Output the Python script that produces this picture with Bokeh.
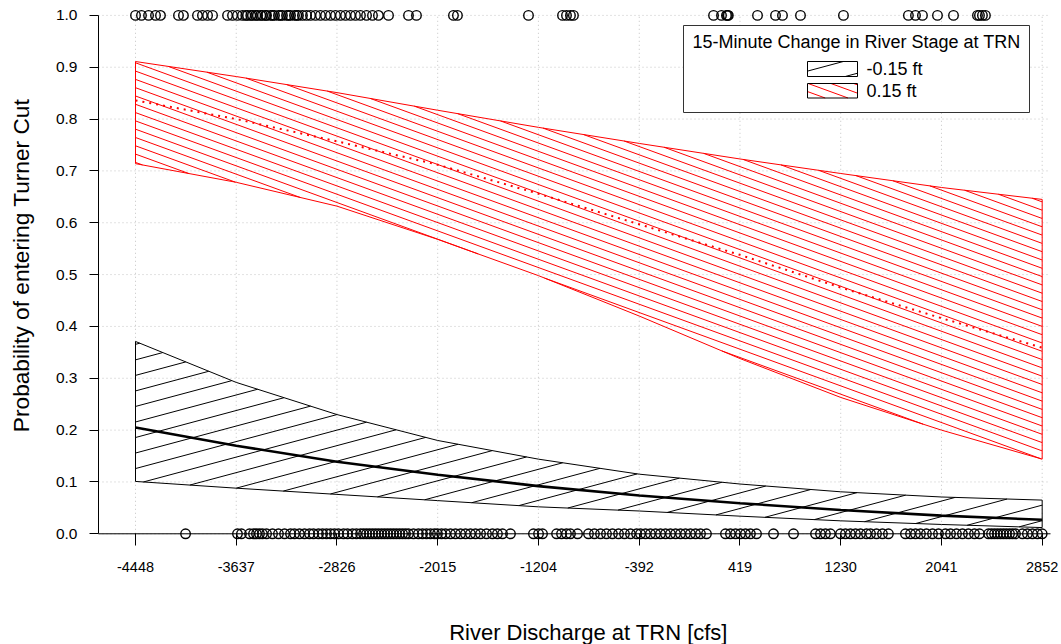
import numpy as np
from bokeh.plotting import figure
from bokeh.models import Range1d, FixedTicker, NumeralTickFormatter
from bokeh.core.properties import value
from bokeh.embed import file_html
from bokeh.resources import INLINE

FONT = "Liberation Sans"

# River discharge (cfs) at which the fitted probabilities are drawn
discharge = [-4448, -3637, -2826, -2015, -1204, -392, 419, 1230, 2041, 2852]

# 15-minute stage change of -0.15 ft: fit and confidence band
neg_fit = [0.205, 0.170, 0.139, 0.114, 0.092, 0.074, 0.059, 0.046, 0.035, 0.027]
neg_lower = [0.101, 0.088, 0.076, 0.064, 0.052, 0.044, 0.034, 0.025, 0.018, 0.012]
neg_upper = [0.371, 0.292, 0.230, 0.180, 0.144, 0.115, 0.096, 0.081, 0.071, 0.065]

# 15-minute stage change of +0.15 ft: fit and confidence band
pos_fit = [0.836, 0.800, 0.757, 0.712, 0.656, 0.597, 0.538, 0.475, 0.416, 0.359]
pos_lower = [0.714, 0.678, 0.632, 0.568, 0.498, 0.420, 0.338, 0.263, 0.200, 0.144]
pos_upper = [0.911, 0.882, 0.851, 0.817, 0.784, 0.753, 0.723, 0.695, 0.668, 0.645]

# observed fish: entered Turner Cut (1) or not (0), by discharge
entered_discharge = [
    -4448, -4400, -4343, -4287, -4247, -4102, -4062, -3949, -3909, -3868,
    -3828, -3707, -3667, -3627, -3587, -3560, -3546, -3520, -3506, -3480,
    -3466, -3440, -3426, -3400, -3393, -3361, -3345, -3329, -3297, -3280,
    -3265, -3232, -3215, -3200, -3168, -3150, -3136, -3104, -3071, -3039,
    -2999, -2959, -2918, -2878, -2838, -2798, -2757, -2717, -2677, -2637,
    -2588, -2540, -2492, -2411, -2250, -2186, -1888, -1856, -1284, -1010,
    -978, -946, -922, 206, 270, 310, 318, 325, 560, 705, 761, 906, 1252,
    1775, 1832, 1888, 2009, 2138, 2331, 2347, 2371, 2395,
]
passed_discharge = [
    -4045, -3627, -3595, -3530, -3498, -3474, -3450, -3426, -3393, -3345,
    -3297, -3248, -3200, -3168, -3128, -3087, -3047, -3015, -2975, -2942,
    -2910, -2878, -2846, -2814, -2773, -2741, -2701, -2669, -2636, -2612,
    -2588, -2564, -2540, -2516, -2492, -2467, -2443, -2419, -2395, -2371,
    -2347, -2322, -2298, -2274, -2250, -2210, -2170, -2137, -2105, -2073,
    -2041, -2017, -1984, -1952, -1912, -1872, -1831, -1791, -1751, -1711,
    -1670, -1622, -1574, -1534, -1493, -1429, -1244, -1203, -1171, -1058,
    -1018, -978, -946, -889, -801, -753, -704, -656, -608, -559, -511,
    -463, -414, -382, -342, -302, -261, -221, -181, -141, -100, -60, -20,
    20, 61, 101, 149, 302, 342, 383, 423, 463, 503, 552, 689, 850, 1027,
    1067, 1107, 1147, 1228, 1268, 1308, 1349, 1389, 1437, 1470, 1518, 1566,
    1614, 1751, 1792, 1832, 1872, 1920, 1969, 2017, 2073, 2114, 2162, 2210,
    2258, 2307, 2347, 2420, 2444, 2468, 2492, 2516, 2540, 2564, 2589, 2613,
    2637, 2693, 2733, 2774, 2814, 2852,
]

x_ticks = [-4448, -3637, -2826, -2015, -1204, -392, 419, 1230, 2041, 2852]
y_ticks = [0.0, 0.1, 0.2, 0.3, 0.4, 0.5, 0.6, 0.7, 0.8, 0.9, 1.0]

x_title = "River Discharge at TRN [cfs]"
y_title = "Probability of entering Turner Cut"
legend_title = "15-Minute Change in River Stage at TRN"
legend_labels = ["-0.15 ft", "0.15 ft"]

# ---- layout -------------------------------------------------------------
# The frame covers the whole canvas; axes sit at fixed data locations.
WIDTH, HEIGHT = 1061, 644
AXIS_PX, RIGHT_PX = 98, 1050      # y-axis line and right end of the plotting area
SX = 952 / 7665                   # pixels per cfs
SY = 532 / 1.0262                 # pixels per unit probability
X_AT_AXIS = -4746                 # discharge under the y-axis line
Y_AT_TOP = 1.0287                 # probability at the top canvas edge

X_START = X_AT_AXIS - AXIS_PX / SX
X_END = X_START + WIDTH / SX
Y_END = Y_AT_TOP
Y_START = Y_END - HEIGHT / SY


def px_to_x(px):
    return X_START + px / SX


def py_to_y(py):
    return Y_END - py / SY


def hatch_segments(xs, lo, hi, angle, gap):
    """Parallel shading lines (angle in degrees on screen, gap in px)
    clipped to the region between the lo and hi curves."""
    X = (np.asarray(xs, float) - X_START) * SX
    L = (np.asarray(lo, float) - Y_START) * SY
    U = (np.asarray(hi, float) - Y_START) * SY
    fine = np.linspace(X[0], X[-1], 8000)
    fl = np.interp(fine, X, L)
    fu = np.interp(fine, X, U)
    k = np.tan(np.radians(angle))
    step = gap / np.cos(np.radians(angle))
    cl = fl - k * fine
    cu = fu - k * fine
    cs = np.arange(np.ceil(cl.min() / step) * step, cu.max(), step)
    x0, y0, x1, y1 = [], [], [], []
    for c in cs:
        idx = np.flatnonzero((cl <= c) & (c <= cu))
        if idx.size < 2:
            continue
        br = np.flatnonzero(np.diff(idx) > 1)
        starts = np.r_[idx[0], idx[br + 1]]
        ends = np.r_[idx[br], idx[-1]]
        for s, e in zip(starts, ends):
            if e <= s:
                continue
            xa, xb = fine[s], fine[e]
            x0.append(X_START + xa / SX)
            y0.append(Y_START + (k * xa + c) / SY)
            x1.append(X_START + xb / SX)
            y1.append(Y_START + (k * xb + c) / SY)
    return x0, y0, x1, y1


p = figure(
    width=WIDTH, height=HEIGHT,
    x_range=Range1d(X_START, X_END), y_range=Range1d(Y_START, Y_END),
    output_backend="svg", toolbar_location=None,
    min_border_left=0, min_border_right=0, min_border_top=0, min_border_bottom=0,
)
p.outline_line_color = None
p.background_fill_color = "white"
p.border_fill_color = "white"

# ---- grid ---------------------------------------------------------------
GRID = "#c4c4c4"
p.xgrid.visible = False
p.ygrid.visible = False
p.segment(x0=x_ticks, y0=[0] * len(x_ticks), x1=x_ticks, y1=[1] * len(x_ticks),
          line_color=GRID, line_dash="1 3", line_width=1, level="underlay")
p.segment(x0=[X_AT_AXIS] * len(y_ticks), y0=y_ticks,
          x1=[px_to_x(RIGHT_PX)] * len(y_ticks), y1=y_ticks,
          line_color=GRID, line_dash="1 3", line_width=1, level="underlay")

# ---- axes ---------------------------------------------------------------
xa = p.xaxis[0]
xa.fixed_location = 0
xa.ticker = FixedTicker(ticks=x_ticks)
xa.formatter = NumeralTickFormatter(format="0")
xa.axis_line_color = None
xa.major_tick_in = 0
xa.major_tick_out = 12
xa.minor_tick_line_color = None
xa.major_label_standoff = 16
xa.major_label_text_font = FONT
xa.major_label_text_font_size = "14.5px"
xa.major_label_text_color = "black"

ya = p.yaxis[0]
ya.fixed_location = X_AT_AXIS
ya.ticker = FixedTicker(ticks=y_ticks)
ya.formatter = NumeralTickFormatter(format="0.0")
ya.bounds = (0, 1)
ya.axis_line_color = "black"
ya.major_tick_in = 0
ya.major_tick_out = 9
ya.minor_tick_line_color = None
ya.major_label_standoff = 12
ya.major_label_text_font = FONT
ya.major_label_text_font_size = "15.5px"
ya.major_label_text_color = "black"

# axis titles
p.text(x=[px_to_x(588)], y=[py_to_y(632)], text=[x_title],
       text_font=value(FONT), text_font_size="22px", text_color="black",
       text_align="center", text_baseline="middle")
p.text(x=[px_to_x(20)], y=[py_to_y(265)], text=[y_title], angle=np.pi / 2,
       text_font=value(FONT), text_font_size="22.7px", text_color="black",
       text_align="center", text_baseline="middle")

# baseline at probability 0
p.segment(x0=[X_AT_AXIS], y0=[0], x1=[px_to_x(RIGHT_PX)], y1=[0],
          line_color="black", line_width=1)

# ---- observations -------------------------------------------------------
p.scatter(x=entered_discharge, y=[1] * len(entered_discharge), marker="circle",
          size=9.5, fill_color=None, line_color="black", line_width=1.4)
p.scatter(x=passed_discharge, y=[0] * len(passed_discharge), marker="circle",
          size=9.5, fill_color=None, line_color="black", line_width=1.4)

# ---- bands --------------------------------------------------------------
NEG_ANGLE, NEG_GAP = 15, 15
POS_ANGLE, POS_GAP = -20, 7.8

hx0, hy0, hx1, hy1 = hatch_segments(discharge, neg_lower, neg_upper, NEG_ANGLE, NEG_GAP)
p.segment(x0=hx0, y0=hy0, x1=hx1, y1=hy1, line_color="black", line_width=1)
p.patch(x=discharge + discharge[::-1], y=neg_upper + neg_lower[::-1],
        fill_color=None, line_color="black", line_width=1)

hx0, hy0, hx1, hy1 = hatch_segments(discharge, pos_lower, pos_upper, POS_ANGLE, POS_GAP)
p.segment(x0=hx0, y0=hy0, x1=hx1, y1=hy1, line_color="red", line_width=1)
p.patch(x=discharge + discharge[::-1], y=pos_upper + pos_lower[::-1],
        fill_color=None, line_color="red", line_width=1)

p.line(discharge, neg_fit, line_color="black", line_width=2.6)
p.line(discharge, pos_fit, line_color="red", line_width=2, line_dash="2 5")

# ---- legend -------------------------------------------------------------
LG_L, LG_R, LG_T, LG_B = 683, 1029, 25, 112
p.quad(left=[px_to_x(LG_L)], right=[px_to_x(LG_R)], top=[py_to_y(LG_T)],
       bottom=[py_to_y(LG_B)], fill_color="white", line_color="#333333", line_width=1)
p.text(x=[px_to_x((LG_L + LG_R) / 2)], y=[py_to_y(41)], text=[legend_title],
       text_font=value(FONT), text_font_size="18px", text_color="black",
       text_align="center", text_baseline="middle")

KEY_L, KEY_R = 807, 857
key_rows = [(61, 76, "black", NEG_ANGLE, NEG_GAP), (83, 97.5, "red", POS_ANGLE, POS_GAP)]
for (top_px, bot_px, colr, ang, gap), lab in zip(key_rows, legend_labels):
    kx = [px_to_x(KEY_L), px_to_x(KEY_R)]
    kb, kt = py_to_y(bot_px), py_to_y(top_px)
    hx0, hy0, hx1, hy1 = hatch_segments(kx, [kb, kb], [kt, kt], ang, gap)
    p.segment(x0=hx0, y0=hy0, x1=hx1, y1=hy1, line_color=colr, line_width=1)
    p.quad(left=[kx[0]], right=[kx[1]], top=[kt], bottom=[kb],
           fill_color=None, line_color="black", line_width=1)
    p.text(x=[px_to_x(KEY_R + 9)], y=[py_to_y((top_px + bot_px) / 2)], text=[lab],
           text_font=value(FONT), text_font_size="18px", text_color="black",
           text_align="left", text_baseline="middle")

open("out.html", "w").write(file_html(p, INLINE))
